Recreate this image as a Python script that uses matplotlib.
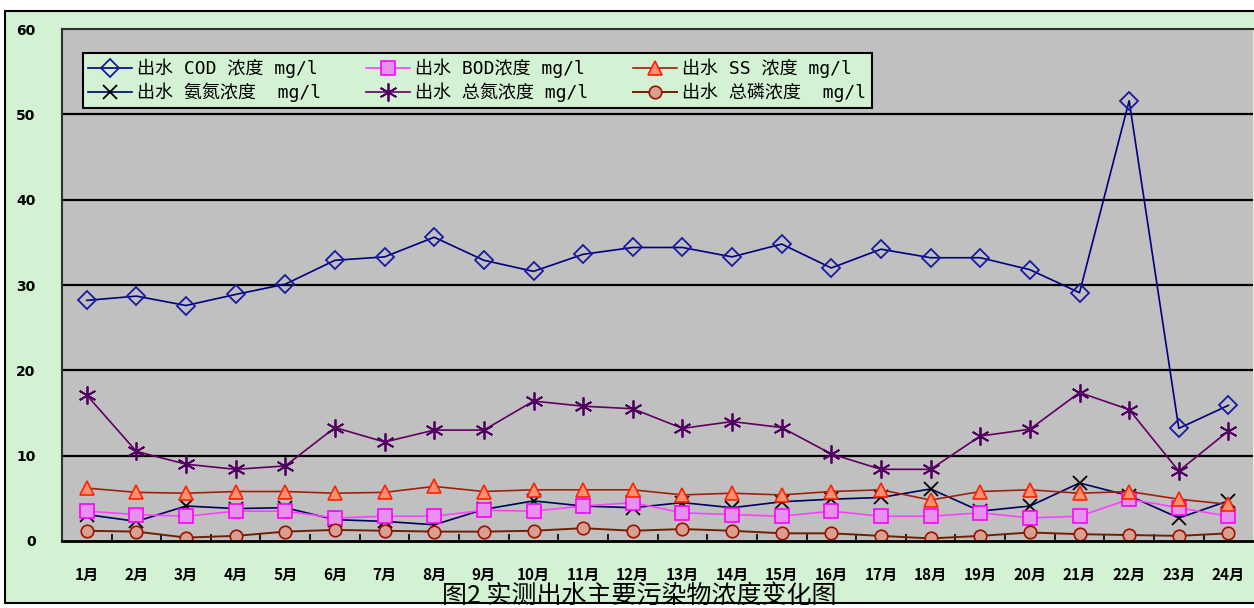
import matplotlib
matplotlib.use("Agg")
import matplotlib.pyplot as plt
from matplotlib.patches import Rectangle
import numpy as np

plt.rcParams['font.family'] = ['Noto Sans CJK SC', 'DejaVu Sans']

months = [f"{i}月" for i in range(1, 25)]

cod = [28.2, 28.7, 27.6, 28.9, 30.1, 32.9, 33.3, 35.6, 32.9, 31.6, 33.6, 34.4,
       34.4, 33.3, 34.8, 32.0, 34.2, 33.2, 33.2, 31.8, 29.1, 51.6, 13.2, 15.9]
bod = [3.5, 3.1, 2.9, 3.5, 3.5, 2.7, 2.9, 2.9, 3.6, 3.5, 4.1, 4.5,
       3.3, 3.1, 2.9, 3.5, 2.9, 2.9, 3.3, 2.7, 2.9, 4.9, 3.9, 2.9]
ss = [6.2, 5.7, 5.6, 5.8, 5.8, 5.6, 5.7, 6.4, 5.8, 6.0, 6.0, 6.0,
      5.4, 5.6, 5.4, 5.8, 6.0, 4.8, 5.8, 6.0, 5.6, 5.8, 4.9, 4.3]
nh3 = [3.1, 2.3, 4.1, 3.8, 3.9, 2.5, 2.3, 1.9, 3.7, 4.7, 4.1, 3.9,
       4.5, 3.9, 4.6, 4.9, 5.1, 6.1, 3.5, 4.1, 6.8, 5.3, 2.7, 4.7]
tn = [17.1, 10.5, 9.0, 8.4, 8.8, 13.3, 11.6, 13.0, 13.0, 16.4, 15.8, 15.5,
      13.2, 14.0, 13.3, 10.2, 8.4, 8.4, 12.3, 13.1, 17.4, 15.4, 8.2, 12.9]
tp = [1.2, 1.1, 0.4, 0.6, 1.1, 1.3, 1.2, 1.1, 1.1, 1.2, 1.5, 1.2,
      1.4, 1.2, 0.9, 0.9, 0.6, 0.3, 0.6, 1.0, 0.8, 0.7, 0.6, 0.9]

green = '#d3f1d3'
x = np.arange(len(months))

fig = plt.figure(figsize=(12.54, 6.08), dpi=100, facecolor='white')
# outer chart frame
fig.patches.append(Rectangle((0.004, 0.008), 1.2, 0.974, transform=fig.transFigure,
                             facecolor=green, edgecolor='black', linewidth=1.5, zorder=-10))

ax = fig.add_axes([0.0494, 0.1102, 0.95, 0.842])
ax.set_facecolor('#c0c0c0')

ax.plot(x, cod, color='#000080', lw=1.2, marker='D', ms=9, mec='#1a1aa0', mfc='none',
        mew=1.3, label='出水 COD 浓度 mg/l')
ax.plot(x, nh3, color='#000060', lw=1.2, marker='x', ms=10, mec='black', mew=1.3,
        label='出水 氨氮浓度  mg/l')
ax.plot(x, bod, color='#ff40ff', lw=1.2, marker='s', ms=10, mec='#ff00ff', mfc='#e890f0',
        mew=1.2, label='出水 BOD浓度 mg/l')
ax.plot(x, tn, color='#600060', lw=1.2, marker=(6, 2, 0), ms=13, mec='#500060', mew=1.3,
        label='出水 总氮浓度 mg/l')
ax.plot(x, ss, color='#a02010', lw=1.2, marker='^', ms=10, mec='#ff2000', mfc='#ff9070',
        mew=1.2, label='出水 SS 浓度 mg/l')
ax.plot(x, tp, color='#702000', lw=1.4, marker='o', ms=9, mec='#a01000', mfc='#d8a090',
        mew=1.2, label='出水 总磷浓度  mg/l')

ax.set_xlim(-0.5, 23.5)
ax.set_ylim(0, 60)
ax.set_yticks(range(0, 61, 10))
for v in range(10, 60, 10):
    ax.axhline(v, color='black', lw=1.6, zorder=1)

ax.set_xticks(x)
ax.set_xticklabels(months, fontsize=11, fontweight='bold')
ax.set_xticks(np.arange(0.5, 23.5, 1), minor=True)
ax.tick_params(axis='x', which='major', length=0, pad=19)
ax.tick_params(axis='x', which='minor', length=5, direction='in', color='black', width=1.2)
ax.tick_params(axis='y', length=0, pad=19, labelsize=10)
for t in ax.get_yticklabels():
    t.set_fontweight('bold')
    t.set_family('DejaVu Sans')

for s in ax.spines.values():
    s.set_color('#303030')
    s.set_linewidth(1.5)
ax.spines['right'].set_visible(False)
ax.spines['bottom'].set_color('black')
ax.spines['bottom'].set_linewidth(2)

leg = ax.legend(loc='upper left', bbox_to_anchor=(0.0176, 0.953), ncol=3,
                prop={'family': ['DejaVu Sans Mono', 'Noto Sans CJK SC'], 'size': 13},
                frameon=True, fancybox=False, framealpha=1, facecolor=green,
                edgecolor='black', handlelength=2.4, handletextpad=0.3,
                columnspacing=2.5, borderpad=0.3, labelspacing=0.25, borderaxespad=0)
leg.get_frame().set_linewidth(1.5)

fig.text(0.51, 0.02, '图2 实测出水主要污染物浓度变化图', fontsize=18,
         ha='center', va='center', color='black')

fig.savefig('out.png', dpi=100, facecolor=fig.get_facecolor())
